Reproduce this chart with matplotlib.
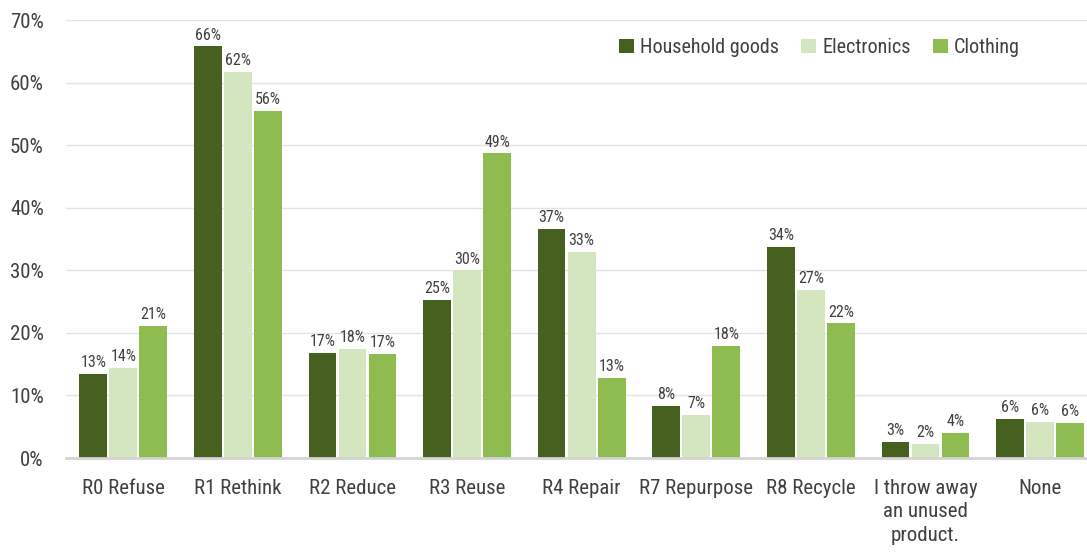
import numpy as np
import matplotlib.pyplot as plt
from matplotlib import font_manager

# pick a narrow family if one is around, otherwise plain Roboto
names = {f.name for f in font_manager.fontManager.ttflist}
family = next(n for n in ['Roboto Condensed', 'Liberation Sans Narrow', 'Roboto', 'DejaVu Sans'] if n in names)
plt.rcParams['font.family'] = [family, 'DejaVu Sans']

categories = ['R0 Refuse', 'R1 Rethink', 'R2 Reduce', 'R3 Reuse', 'R4 Repair',
              'R7 Repurpose', 'R8 Recycle', 'I throw away\nan unused\nproduct.', 'None']
household = [13.4, 65.8, 16.8, 25.3, 36.6, 8.3, 33.7, 2.6, 6.2]
electronics = [14.4, 61.7, 17.5, 30.0, 32.9, 6.9, 26.9, 2.2, 5.8]
clothing = [21.1, 55.5, 16.6, 48.7, 12.8, 17.9, 21.5, 4.0, 5.6]

series = [('Household goods', household, '#46601f'),
          ('Electronics', electronics, '#d4e6bf'),
          ('Clothing', clothing, '#8fbc50')]

text_col = '#404040'
fig = plt.figure(figsize=(10.87, 5.56), dpi=100)
ax = fig.add_axes([66 / 1087, 98 / 556, 1 - 66 / 1087, 438 / 556])

x = np.arange(len(categories))
step = 0.262
for i, (name, vals, col) in enumerate(series):
    pos = x + (i - 1) * step
    ax.bar(pos, vals, width=0.242, color=col, label=name, zorder=3)
    for px, v in zip(pos, vals):
        ax.text(px, v + 0.6, f'{v:.0f}%', ha='center', va='bottom',
                fontsize=11.5, color=text_col)

ax.set_xlim(-0.5, 8.41)
ax.set_ylim(0, 70)
ax.set_yticks(range(0, 71, 10))
ax.set_yticklabels([f'{t}%' for t in range(0, 71, 10)])
ax.set_xticks(x)
ax.set_xticklabels(categories, linespacing=1.3)
ax.tick_params(axis='y', length=0, pad=16, labelsize=15, colors=text_col)
ax.tick_params(axis='x', length=0, pad=15, labelsize=15, colors=text_col)
ax.yaxis.grid(True, color='#e4e4e4', linewidth=1, zorder=0)
for s in ['top', 'right', 'left']:
    ax.spines[s].set_visible(False)
ax.spines['bottom'].set_color('#d4d4d4')
ax.spines['bottom'].set_linewidth(2)
ax.spines['bottom'].set_zorder(4)

ax.legend(loc='upper right', bbox_to_anchor=(0.952, 1.0), ncol=3, frameon=False,
          fontsize=14.5, handlelength=0.75, handleheight=0.75, handletextpad=0.3,
          columnspacing=1.1, labelcolor=text_col)

fig.savefig('out.png', dpi=100)
